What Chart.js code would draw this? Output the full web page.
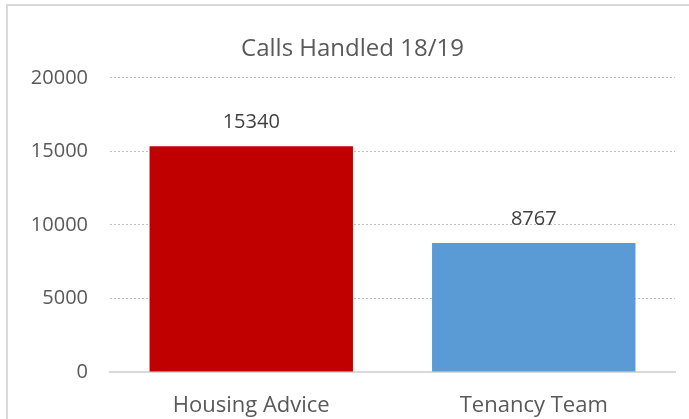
<!DOCTYPE html>
<html>
<head>
<meta charset="utf-8">
<script src="https://cdn.jsdelivr.net/npm/chart.js@4.4.1/dist/chart.umd.min.js"></script>
<style>
  html, body { margin: 0; padding: 0; background: #fff; }
  #wrap { position: relative; width: 689px; height: 419px; overflow: hidden; }
  #frame { position: absolute; left: 6px; top: 4px; width: 720px; height: 440px;
           border: 2px solid #d9d9d9; box-sizing: border-box; }
  canvas { position: absolute; left: 0; top: 0; }
</style>
</head>
<body>
<div id="wrap">
  <div id="frame"></div>
  <canvas id="chart" width="689" height="419"></canvas>
</div>
<script>
// chart data
const categories = ['Housing Advice', 'Tenancy Team'];
const callsHandled = [15340, 8767];
const barColors = ['#c00000', '#5b9bd5'];
const yTicks = [0, 5000, 10000, 15000, 20000];

const FONT = '"Open Sans", sans-serif';

// draws the value above each bar
const valueLabels = {
    id: 'valueLabels',
    afterDatasetsDraw(chart) {
        const ctx = chart.ctx;
        const meta = chart.getDatasetMeta(0);
        ctx.save();
        ctx.font = '20px ' + FONT;
        ctx.fillStyle = '#404040';
        ctx.textAlign = 'center';
        ctx.textBaseline = 'bottom';
        meta.data.forEach((bar, i) => {
            ctx.fillText(String(callsHandled[i]), bar.x, bar.y - 14);
        });
        ctx.restore();
    }
};

const ctx = document.getElementById('chart').getContext('2d');
new Chart(ctx, {
    type: 'bar',
    data: {
        labels: categories,
        datasets: [{
            data: callsHandled,
            backgroundColor: barColors,
            categoryPercentage: 0.72,
            barPercentage: 1
        }]
    },
    options: {
        responsive: false,
        animation: false,
        layout: { padding: { left: 30, right: 14, top: 0, bottom: 0 } },
        plugins: {
            legend: { display: false },
            tooltip: { enabled: false },
            title: {
                display: true,
                text: 'Calls Handled 18/19',
                color: '#595959',
                font: { family: FONT, size: 24, weight: 'normal' },
                padding: { top: 35, bottom: 14 }
            }
        },
        scales: {
            x: {
                grid: { display: false },
                border: { display: true, color: '#d9d9d9', width: 2 },
                ticks: { color: '#595959', font: { family: FONT, size: 22 }, padding: 13 },
                afterFit(scale) { scale.height = 47; }
            },
            y: {
                min: 0,
                max: 20000,
                afterBuildTicks(scale) { scale.ticks = yTicks.map(v => ({ value: v })); },
                grid: {
                    drawTicks: false,
                    color: c => c.tick && c.tick.value === 0 ? 'rgba(0,0,0,0)' : '#bfbfbf',
                    lineWidth: 1
                },
                border: { display: false, dash: [2, 2] },
                ticks: {
                    color: '#595959',
                    font: { family: FONT, size: 20 },
                    padding: 22,
                    callback: v => String(v)
                },
                afterFit(scale) { scale.width = 80; }
            }
        }
    },
    plugins: [valueLabels]
});
</script>
</body>
</html>
